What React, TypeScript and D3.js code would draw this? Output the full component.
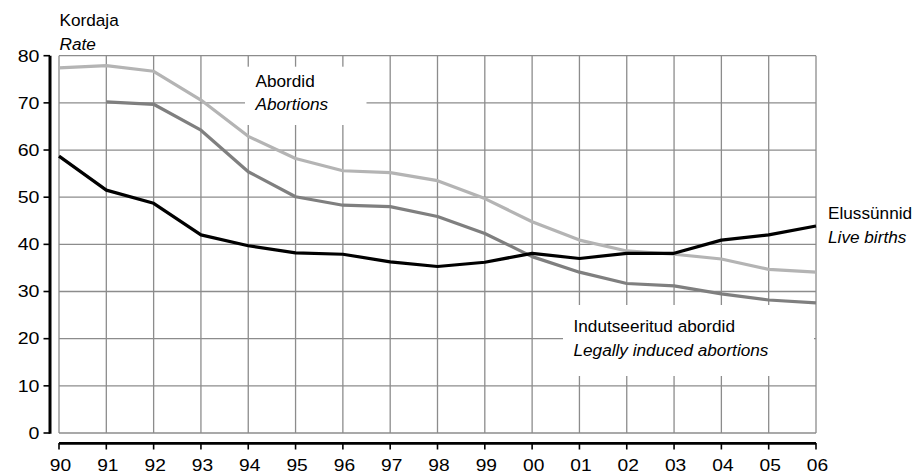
import React from "react";
import * as d3 from "d3";

const years = ["90","91","92","93","94","95","96","97","98","99","00","01","02","03","04","05","06"];
const abortions = [77.4, 77.9, 76.7, 70.6, 62.9, 58.2, 55.6, 55.2, 53.5, 49.7, 44.8, 40.9, 38.6, 37.9, 36.9, 34.7, 34.1];
const induced: (number | null)[] = [null, 70.2, 69.7, 64.2, 55.4, 50.1, 48.3, 48.0, 45.9, 42.3, 37.4, 34.1, 31.7, 31.2, 29.5, 28.2, 27.6];
const liveBirths = [58.7, 51.5, 48.7, 42.0, 39.7, 38.2, 37.9, 36.3, 35.3, 36.2, 38.1, 37.0, 38.1, 38.1, 40.9, 42.0, 43.9];
const yTicks = [0, 10, 20, 30, 40, 50, 60, 70, 80];

const W = 918, H = 474;
const FONT = "'Liberation Sans', Arial, sans-serif";

export default function App() {
  const x = d3.scalePoint<string>().domain(years).range([59, 816]);
  const y = d3.scaleLinear().domain([0, 80]).range([433, 55.7]);
  const line = d3
    .line<number | null>()
    .defined((d) => d !== null)
    .x((_, i) => x(years[i]) as number)
    .y((d) => y(d as number));

  const gridColor = "#8c8c8c";
  const x0 = x(years[0]) as number;
  const x1 = x(years[years.length - 1]) as number;

  return (
    <svg width={W} height={H} style={{ position: "absolute", left: 0, top: 0, background: "#fff" }} fontFamily={FONT}>
      <rect x={0} y={0} width={W} height={H} fill="#fff" />
      {/* grid */}
      {yTicks.map((t) => (
        <line key={"h" + t} x1={x0} x2={x1} y1={y(t)} y2={y(t)} stroke={gridColor} strokeWidth={1.3} />
      ))}
      {years.map((yr) => (
        <line key={"v" + yr} x1={x(yr)} x2={x(yr)} y1={y(80)} y2={y(0)} stroke={gridColor} strokeWidth={1.3} />
      ))}
      {/* label boxes */}
      <rect x={245} y={66.7} width={121.5} height={58.3} fill="#fff" />
      <rect x={563} y={305} width={251} height={71} fill="#fff" />
      {/* series */}
      <path d={line(abortions) || ""} fill="none" stroke="#b4b4b4" strokeWidth={3.2} strokeLinejoin="round" />
      <path d={line(induced) || ""} fill="none" stroke="#7f7f7f" strokeWidth={3.2} strokeLinejoin="round" />
      <path d={line(liveBirths) || ""} fill="none" stroke="#000" strokeWidth={3.2} strokeLinejoin="round" />
      {/* y axis */}
      <line x1={50} x2={50} y1={y(80)} y2={y(0) + 0.8} stroke="#000" strokeWidth={3} />
      {yTicks.map((t) => (
        <g key={"yt" + t}>
          <line x1={43.5} x2={50} y1={y(t)} y2={y(t)} stroke="#000" strokeWidth={1.6} />
          <text
            transform={`translate(39.5,${y(t) + 5.8}) scale(1.2,1)`}
            textAnchor="end"
            fontSize={16.3}
            fill="#000"
          >
            {t}
          </text>
        </g>
      ))}
      {/* x axis */}
      <line x1={x0} x2={x1} y1={443.3} y2={443.3} stroke="#000" strokeWidth={2.8} />
      {years.map((yr) => (
        <g key={"xt" + yr}>
          <line x1={x(yr)} x2={x(yr)} y1={443} y2={449.5} stroke="#000" strokeWidth={1.6} />
          <text
            transform={`translate(${(x(yr) as number) + 1.5},${470.5}) scale(1.2,1)`}
            textAnchor="middle"
            fontSize={16}
            fill="#000"
          >
            {yr}
          </text>
        </g>
      ))}
      {/* labels */}
      <text x={59.5} y={26} fontSize={17.2} fill="#000">Kordaja</text>
      <text x={59.5} y={49.5} fontSize={17.2} fontStyle="italic" fill="#000">Rate</text>
      <text x={255.5} y={86.5} fontSize={17.2} fill="#000">Abordid</text>
      <text x={255.5} y={110} fontSize={17.2} fontStyle="italic" fill="#000">Abortions</text>
      <text x={573.5} y={331.5} fontSize={17.2} fill="#000">Indutseeritud abordid</text>
      <text x={573.5} y={355.5} fontSize={17.2} fontStyle="italic" fill="#000">Legally induced abortions</text>
      <text x={828} y={218.5} fontSize={17.2} fill="#000">Elussünnid</text>
      <text x={828} y={242.5} fontSize={17.2} fontStyle="italic" fill="#000">Live births</text>
    </svg>
  );
}
